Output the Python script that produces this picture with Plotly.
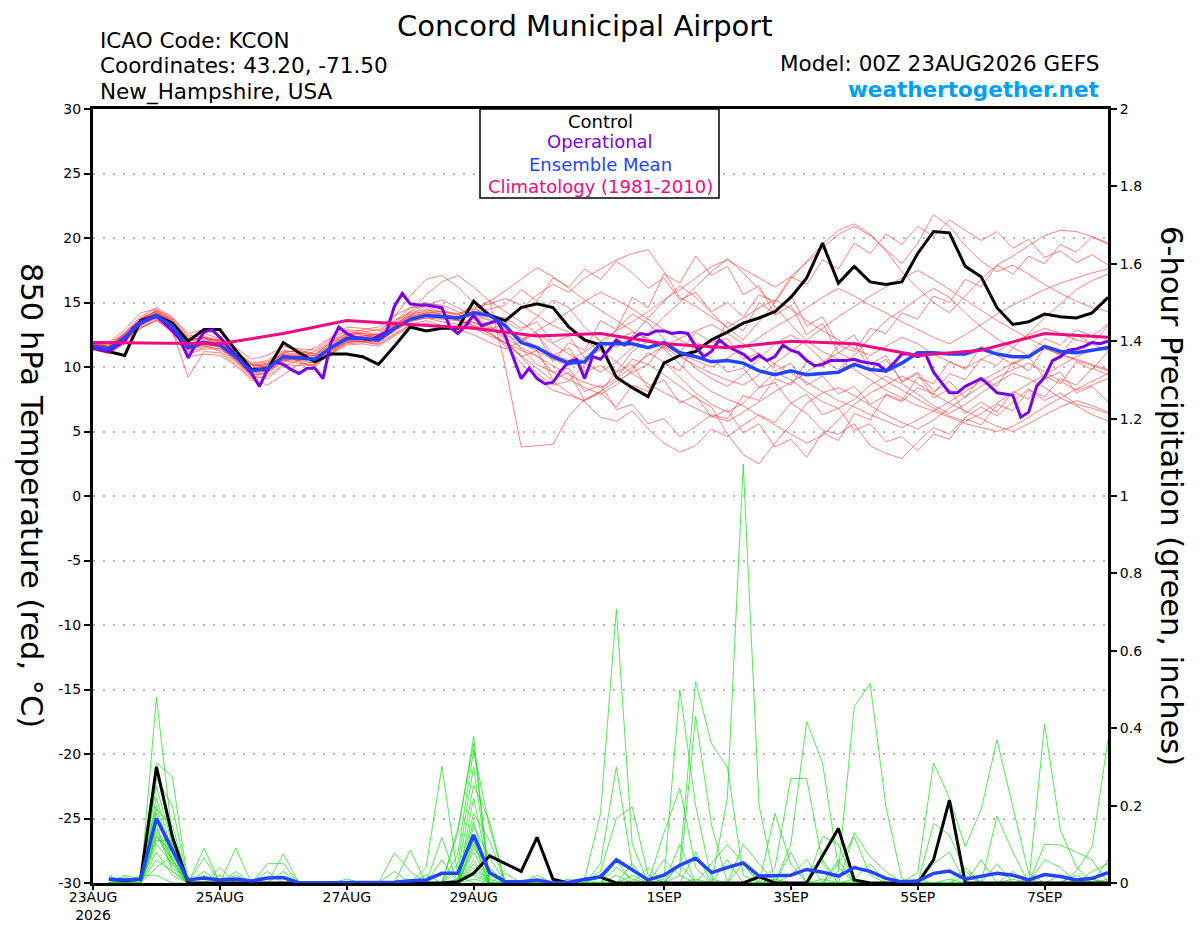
import pandas as pd
import plotly.graph_objects as go

# time axes
times = pd.date_range("2026-08-23 00:00", periods=65, freq="6h")
precip_times = times[1:]
oper_times = pd.date_range("2026-08-23 00:00", periods=129, freq="3h")
clim_times = pd.date_range("2026-08-23 00:00", periods=17, freq="1D")

tick_dates = ["2026-08-23", "2026-08-25", "2026-08-27", "2026-08-29",
              "2026-09-01", "2026-09-03", "2026-09-05", "2026-09-07"]
tick_labels = ["23AUG<br>2026", "25AUG", "27AUG", "29AUG", "1SEP", "3SEP", "5SEP", "7SEP"]

# 850 hPa temperature, ensemble members (deg C, 6-hourly)
t_mem01 = [11.8,11.6,12.6,13.8,14.3,13.5,12.0,12.3,11.6,10.5,9.2,9.6,10.4,
           10.9,11.2,12.0,12.8,12.6,12.3,13.5,14.6,15.0,14.4,14.1,14.8,14.2,
           13.5,12.8,13.9,15.2,14.6,13.1,12.0,11.5,12.4,13.8,15.1,16.3,15.4,
           14.2,13.0,12.1,13.5,15.0,16.8,18.2,19.5,20.6,21.1,20.3,19.0,17.4,
           16.1,15.0,14.2,15.5,16.8,17.9,18.6,19.4,20.2,20.6,20.5,20.1,19.5]
t_mem02 = [11.5,11.2,12.0,13.2,13.9,13.0,11.2,11.5,11.9,10.9,10.1,10.3,11.0,
           10.4,10.0,11.2,12.0,12.4,12.6,13.9,15.5,16.8,17.1,16.2,15.0,14.1,
           12.8,11.4,10.2,9.6,9.0,8.4,7.9,8.6,9.8,11.1,10.4,9.2,8.0,
           7.1,6.5,7.2,8.4,9.6,9.0,8.1,7.3,6.8,7.5,8.6,9.3,8.7,
           7.9,7.0,6.4,7.1,8.0,8.8,9.5,9.1,8.4,7.6,7.0,6.3,5.8]
t_mem03 = [11.6,11.9,12.9,14.2,14.5,13.8,12.6,12.9,12.4,11.3,10.2,10.0,10.6,
           11.0,11.5,12.3,13.1,13.0,12.8,13.2,14.0,14.8,15.2,14.6,13.9,13.3,
           12.1,10.8,9.5,8.6,8.9,10.2,11.6,12.9,14.1,13.4,12.2,11.0,9.9,
           9.1,8.5,9.4,10.6,11.8,12.5,11.7,10.5,9.8,10.9,12.3,13.6,14.4,
           15.3,16.1,15.4,14.2,13.1,12.2,11.5,12.6,13.8,14.9,16.0,16.7,17.2]
t_mem04 = [11.4,11.0,11.8,13.0,13.7,12.6,10.8,11.0,10.9,10.1,9.0,8.6,9.4,
           10.2,10.4,11.0,11.9,12.0,11.7,12.5,13.3,13.6,13.2,13.0,14.0,15.2,
           10.0,3.8,3.9,4.0,6.2,7.5,8.1,9.6,11.2,12.0,11.4,10.2,9.0,
           8.1,7.5,7.0,6.2,5.5,4.8,4.1,4.7,5.9,7.1,8.0,8.6,9.3,
           8.7,7.9,7.2,6.6,6.0,5.4,5.0,5.6,6.3,6.9,7.4,7.0,6.5]
t_mem05 = [11.7,11.5,12.4,13.5,14.1,13.4,11.7,12.1,12.0,11.2,10.3,10.5,11.3,
           11.1,10.8,11.6,12.4,12.7,12.9,13.6,14.2,14.5,14.0,13.6,13.2,12.9,
           13.4,14.5,15.6,16.4,15.8,16.9,17.6,18.3,18.8,19.1,17.4,15.4,14.7,
           13.9,13.1,13.8,14.6,15.2,14.5,13.6,12.8,12.1,11.4,10.9,11.6,12.3,
           11.8,11.0,10.4,9.9,10.6,11.2,11.9,12.5,13.0,12.6,12.1,11.8,11.2]
t_mem06 = [11.3,11.1,12.1,13.1,13.6,12.9,11.0,11.4,11.4,10.6,9.4,9.5,10.5,
           10.3,10.1,11.1,11.8,11.9,11.8,12.6,13.2,13.4,13.0,12.9,13.5,12.8,
           11.6,10.3,9.1,8.2,7.8,7.4,8.1,8.9,9.6,10.2,9.4,8.5,7.6,
           6.9,4.8,3.2,2.5,4.1,5.5,7.2,8.0,8.4,7.8,7.0,6.3,5.7,
           5.2,5.9,6.8,7.7,8.5,9.2,9.8,10.3,9.6,8.9,8.2,8.6,9.1]
t_mem07 = [11.9,11.8,12.7,13.9,14.6,13.9,12.4,12.6,12.2,11.5,10.6,10.9,11.6,
           11.4,11.3,12.2,12.9,12.8,12.4,13.1,14.3,15.6,16.6,17.1,16.2,15.1,
           14.3,13.5,12.6,11.8,11.0,10.3,9.6,10.4,11.5,12.6,13.9,15.0,16.2,
           17.4,18.4,17.3,16.0,14.7,13.3,12.0,11.2,10.6,9.8,9.0,8.2,7.6,
           7.0,6.6,6.1,5.6,5.3,5.0,5.4,6.1,6.9,7.6,8.3,8.9,9.5]
t_mem08 = [11.6,11.3,12.2,13.3,13.8,13.1,11.4,11.7,11.2,10.4,9.3,9.1,10.1,
           10.5,10.7,11.4,12.1,12.3,12.0,12.8,13.9,14.2,14.3,14.0,14.6,14.9,
           15.3,14.8,14.0,13.2,12.7,12.0,11.3,10.4,9.5,8.7,8.0,7.4,6.8,
           6.2,5.8,6.5,7.3,8.1,8.8,9.6,10.4,11.1,10.5,9.7,8.9,8.2,
           7.5,6.8,6.2,5.8,6.4,7.2,8.0,8.7,9.4,10.1,10.8,11.3,11.6]
t_mem09 = [11.5,11.4,12.3,13.6,14.2,13.6,12.2,12.2,12.0,11.0,9.9,10.2,11.1,
           11.3,11.0,11.9,12.6,12.5,12.2,13.3,14.1,14.3,14.1,13.9,14.1,13.7,
           12.9,12.2,11.6,11.0,10.5,11.2,12.0,12.8,13.5,14.3,15.2,16.0,16.9,
           17.8,18.3,17.6,16.9,16.2,17.0,18.1,19.2,20.3,20.9,20.2,19.1,18.0,
           19.6,21.8,20.9,19.4,18.2,17.4,17.9,17.2,16.4,15.7,15.1,14.6,14.3]
t_mem10 = [11.7,11.6,12.5,13.7,14.4,13.7,12.3,12.4,11.9,10.9,9.8,9.9,10.7,
           10.8,10.9,11.7,12.5,12.9,13.1,14.0,14.6,14.7,14.2,13.7,13.0,12.4,
           11.9,11.3,10.8,10.1,9.4,8.8,8.4,9.1,10.0,10.9,11.6,12.2,12.8,
           13.3,12.6,11.8,11.0,10.2,9.5,8.8,8.1,7.4,6.9,6.3,5.8,5.3,
           5.9,6.6,7.3,8.1,8.9,9.6,10.3,10.9,11.4,11.0,10.6,10.2,9.8]
t_mem11 = [11.4,11.3,12.2,13.3,14.0,13.3,11.8,12.0,11.8,10.9,9.9,10.1,11.0,
           10.9,10.5,11.3,12.0,12.1,12.3,13.2,13.9,14.2,14.0,13.8,14.4,15.1,
           15.9,16.8,17.7,17.0,16.1,15.2,14.4,13.6,12.8,12.1,11.5,10.8,10.1,
           9.5,9.0,8.6,9.4,10.3,11.2,12.1,13.0,13.9,14.7,15.5,16.2,16.9,
           17.5,16.8,16.0,15.2,14.4,13.6,12.9,12.2,11.6,11.0,10.5,10.1,9.7]
t_mem12 = [11.6,11.5,12.4,13.5,14.1,13.0,11.3,11.8,11.5,10.6,9.5,9.7,10.5,
           10.6,10.4,11.3,12.0,12.0,11.9,12.8,13.6,13.8,13.5,13.3,13.1,12.6,
           11.8,10.9,9.9,8.9,8.0,7.3,6.1,5.8,6.6,5.2,4.1,3.4,3.9,
           5.2,4.6,5.5,6.3,5.7,7.2,6.4,5.1,4.8,5.6,3.9,3.3,2.9,
           4.2,5.3,4.8,6.1,6.9,6.2,7.3,8.3,7.4,8.0,7.1,6.8,6.4]
t_mem13 = [11.8,11.7,12.6,13.7,14.3,13.6,12.0,12.2,12.1,11.2,10.1,10.2,11.1,
           11.0,10.9,11.8,12.4,12.4,12.5,13.4,14.3,14.9,14.8,14.3,13.7,13.1,
           12.5,11.9,11.2,10.6,10.1,10.7,11.4,12.1,12.7,12.2,11.6,11.0,10.5,
           10.0,10.7,11.5,12.3,13.1,13.8,14.6,15.4,16.1,15.5,14.8,14.2,13.5,
           12.9,12.3,11.8,12.5,13.3,14.1,14.8,15.4,16.0,16.5,16.9,17.3,17.6]
t_mem14 = [11.5,11.2,12.0,13.0,13.6,12.8,9.2,11.2,11.1,10.2,9.1,9.3,10.2,
           10.1,10.2,11.0,11.7,11.8,11.6,12.4,13.1,13.3,13.1,12.9,12.5,11.9,
           11.4,12.0,12.8,13.5,14.3,15.1,15.8,15.2,14.5,13.7,12.9,12.1,11.4,
           10.7,9.6,9.9,8.4,8.8,7.2,7.9,6.3,6.8,5.1,5.6,4.2,4.6,
           3.5,4.8,4.4,6.0,5.5,7.1,6.6,8.2,7.7,9.1,8.6,9.9,9.4]
t_mem15 = [11.7,11.6,12.5,13.6,14.2,13.5,11.9,12.0,11.7,10.8,9.7,9.8,10.6,
           10.6,10.6,11.5,12.3,12.3,12.2,13.0,13.8,14.1,13.9,13.7,13.4,13.0,
           12.3,11.5,10.9,9.6,9.9,8.1,8.6,6.7,7.1,5.6,6.0,4.6,5.4,
           6.3,6.0,7.8,7.4,9.1,8.6,10.4,10.0,11.7,11.2,13.0,12.6,14.2,
           13.7,15.5,15.0,16.8,16.2,17.9,17.2,18.6,18.0,19.5,18.9,20.1,19.6]
t_mem16 = [11.6,11.4,12.3,13.4,13.9,13.2,11.5,11.8,11.6,10.7,9.6,9.7,10.8,
           10.8,10.6,11.5,12.2,12.1,12.0,12.9,13.6,13.9,13.8,13.7,14.0,13.6,
           13.1,12.2,12.6,10.9,11.5,9.6,10.1,9.2,10.6,10.2,11.8,11.1,12.7,
           11.9,12.2,10.6,11.1,9.7,10.3,8.6,9.3,7.9,8.5,7.1,7.8,7.3,
           8.4,7.9,9.5,9.0,10.6,10.1,11.5,10.9,12.2,11.7,12.9,12.4,13.3]
t_mem17 = [11.4,11.3,12.1,13.2,13.8,13.1,11.6,11.9,11.8,10.9,9.8,10.0,10.9,
           10.8,10.7,11.6,12.3,12.4,12.3,13.1,13.7,14.0,13.9,13.8,14.3,14.0,
           13.8,13.0,13.5,11.9,12.4,10.7,11.3,9.6,10.2,8.4,9.0,7.2,7.8,
           6.1,6.7,4.9,5.6,3.8,4.4,3.0,4.9,4.3,6.4,5.9,7.9,7.4,
           9.2,8.7,10.4,9.8,11.6,10.9,10.2,10.8,9.1,9.6,8.0,8.5,7.3]
t_mem18 = [11.7,11.5,12.4,13.5,14.1,13.4,11.8,12.0,11.9,11.0,9.9,10.0,10.9,
           10.8,10.7,11.6,12.3,12.3,12.2,13.1,13.8,14.1,14.0,13.9,14.2,14.5,
           14.8,16.0,15.1,16.9,16.2,17.6,16.8,18.2,17.3,16.1,16.9,15.2,15.8,
           14.3,15.0,13.9,15.6,15.1,17.0,16.4,18.3,17.6,19.6,18.8,20.3,19.5,
           20.9,20.1,21.4,20.6,19.8,20.5,19.2,19.9,18.5,19.0,18.1,18.7,17.9]
t_mem19 = [11.5,11.3,12.2,13.3,13.9,13.1,11.4,11.6,11.4,10.5,9.4,9.6,10.6,
           10.5,10.3,11.2,11.9,12.0,12.0,12.8,13.5,13.8,13.7,13.6,13.2,12.6,
           11.9,10.8,11.3,9.0,9.6,7.4,8.0,6.9,8.6,8.1,10.3,9.7,11.9,
           11.4,13.5,12.8,15.0,14.1,15.6,13.2,13.9,11.7,12.5,10.2,10.9,8.8,
           9.5,7.6,8.3,6.4,7.3,6.5,8.1,7.5,9.3,8.7,10.4,9.8,11.2]
t_mem20 = [11.8,11.6,12.5,13.7,14.4,13.7,12.1,12.3,12.1,11.2,10.2,10.4,11.2,
           11.2,11.0,11.9,12.6,12.6,12.5,13.3,14.0,14.4,14.3,14.1,14.5,14.0,
           13.2,12.0,12.6,10.4,11.9,11.3,13.6,12.9,15.4,14.6,17.2,16.5,18.6,
           17.1,17.8,15.6,16.3,14.0,14.8,12.5,13.4,11.1,11.9,9.8,10.6,8.9,
           9.6,8.1,8.9,7.6,9.2,8.5,10.4,9.7,11.5,10.9,12.5,11.8,13.2]

temp_members = [t_mem01, t_mem02, t_mem03, t_mem04, t_mem05, t_mem06, t_mem07,
                t_mem08, t_mem09, t_mem10, t_mem11, t_mem12, t_mem13, t_mem14,
                t_mem15, t_mem16, t_mem17, t_mem18, t_mem19, t_mem20]

t_control = [11.5,11.2,10.9,13.6,14.0,13.4,12.0,12.9,12.9,11.3,9.8,9.8,11.9,
             11.1,10.4,11.0,11.0,10.8,10.2,11.6,13.1,12.8,13.0,13.0,15.1,14.0,
             13.6,14.6,14.9,14.6,13.1,12.1,11.7,9.2,8.4,7.7,10.3,10.9,11.2,
             12.1,12.7,13.4,13.8,14.3,15.4,16.9,19.6,16.5,17.8,16.6,16.4,16.6,
             18.8,20.5,20.4,17.8,17.0,14.6,13.3,13.5,14.1,13.9,13.8,14.2,15.4]

t_mean = [11.6,11.4,12.3,13.4,14.0,13.2,11.5,11.9,11.7,10.8,9.7,9.9,10.8,
          10.7,10.6,11.5,12.2,12.2,12.1,13.0,13.7,14.0,13.9,13.8,14.2,14.0,
          13.2,11.9,11.5,10.8,10.3,10.4,11.8,11.8,11.8,11.5,11.9,11.1,10.8,
          10.4,10.5,10.3,9.7,9.4,9.7,9.4,9.5,9.6,10.2,9.8,9.7,10.3,
          11.1,11.1,11.0,11.0,11.4,11.0,10.8,10.8,11.6,11.2,11.1,11.3,11.5]

# operational run, 3-hourly
t_oper = [11.5,11.3,11.2,11.6,12.0,13.0,13.5,13.8,
          13.9,13.4,12.8,12.1,10.7,11.8,12.7,12.9,
          12.3,11.6,10.9,10.2,9.5,8.5,9.8,10.4,
          10.2,9.8,9.5,9.9,9.9,9.1,11.9,13.1,
          12.6,12.3,12.2,12.1,12.4,12.7,14.7,15.7,
          14.9,14.8,14.8,14.7,14.6,13.1,12.6,13.2,
          14.0,13.2,13.4,13.6,12.4,10.7,9.1,9.9,
          9.1,8.7,8.8,9.7,10.4,10.6,9.1,10.8,
          10.6,11.3,12.1,11.7,12.2,12.6,12.5,12.8,
          12.8,12.6,12.7,12.6,11.6,10.8,11.2,12.1,
          11.6,11.3,11.0,10.5,10.9,10.5,10.8,11.7,
          11.3,11.1,10.5,10.1,10.2,10.5,10.5,10.5,
          10.6,10.4,10.3,10.2,9.7,10.3,11.0,11.0,
          10.8,11.0,9.6,8.8,8.0,8.0,8.5,8.8,
          9.1,8.6,8.0,7.9,7.8,6.1,6.5,8.5,
          9.2,10.5,10.8,11.3,11.4,11.6,11.9,11.8,
          12.0]

# 1981-2010 climatology, daily
t_clim = [11.9,11.85,11.8,12.6,13.6,13.3,13.0,12.4,12.6,11.8,11.5,12.0,11.8,10.9,11.3,12.6,12.3]

# 6-hour precipitation members (inches), valid 06Z 23AUG .. 00Z 8SEP
p_mem01 = [.01,0,0,.48,.12,0,.09,0, .03,0,0,0,0,0,0,0,
           0,0,0,0,0,0,.128,.378, 0,0,0,0,0,0,.01,0,
           .04,.01,0,0,0,0,0,.06, 0,0,.01,0,0,0,.03,.456,
           .516,.197,.01,0,0,0,0,0, 0,.01,0,0,0,.02,0,0]
p_mem02 = [0,.02,.01,.31,.275,0,.065,0, 0,0,0,0,0,0,0,0,
           0,0,0,0,0,0,.14,.36, 0,.025,0,0,0,0,0,.02,
           0,0,0,.01,.50,.2,.01,0, 0,0,0,0,0,0,0,.01,
           .05,0,0,0,0,0,0,0, 0,0,0,.41,.137,.042,0,0]
p_mem03 = [0,.01,0,.27,.2,0,.03,0, 0,0,.03,0,0,0,0,0,
           0,0,0,0,0,0,.075,.344, .145,0,0,0,0,0,0,0,
           .02,0,0,.06,.02,0,0,0, 0,0,0,.02,.06,0,0,0,
           0,0,0,0,0,.01,0,0, 0,0,0,0,0,0,.03,.05]
p_mem04 = [.02,0,0,.25,.1,0,0,.04, 0,0,0,0,0,0,0,0,
           0,0,0,0,0,0,.05,.30, .01,0,0,.02,0,0,0,0,
           0,.02,0,0,0,.01,0,0, .1,.05,0,0,0,0,0,0,
           0,0,0,0,.05,.08,0,0, 0,0,0,0,0,0,0,.01]
p_mem05 = [0,0,0,.22,.08,0,.02,0, 0,0,0,0,0,0,0,0,
           0,0,0,0,0,0,.03,.253, .16,0,0,0,0,.01,0,0,
           0,0,0,0,.05,.52,.36,.30, .02,0,0,0,0,.01,0,0,
           0,0,0,0,0,0,.04,0, 0,0,.01,0,0,0,0,0]
p_mem06 = [0,0,.016,.2,.06,0,0,.02, 0,0,0,0,0,0,0,0,
           0,0,0,0,0,0,0,.22, .02,0,0,0,0,0,0,0,
           0,0,.04,0,.1,0,0,0, 0,0,0,.08,0,0,.06,0,
           0,0,0,0,0,0,0,0, .173,.08,0,0,0,0,.01,0]
p_mem07 = [0,0,0,.19,.15,0,0,0, .09,0,0,0,0,0,0,0,
           0,0,0,0,0,0,.01,.18, .11,0,0,0,0,0,0,0,
           0,0,0,0,.02,.43,.15,0, 0,0,0,0,0,0,0,0,
           0,0,0,.01,0,0,0,0, 0,0,0,0,.02,0,0,0]
p_mem08 = [0,.015,0,.18,.05,0,0,0, .02,0,0,0,0,0,0,0,
           0,0,0,0,0,0,0,.16, 0,0,0,0,0,0,.01,.18,
           .707,.1,0,0,0,0,0,0, 0,0,0,0,0,0,0,0,
           0,0,0,0,0,0,0,0, 0,0,0,.1,.098,.08,.06,0]
p_mem09 = [0,0,0,.16,.1,0,0,0, 0,0,.05,.05,0,0,0,0,
           0,0,0,0,0,0,0,.145, .067,0,0,0,0,0,0,0,
           0,0,0,0,0,.08,0,0, 0,0,0,0,0,0,.05,.12,
           .02,0,0,0,0,0,0,0, 0,0,0,0,0,0,.01,0]
p_mem10 = [0,0,0,.15,.03,0,0,0, 0,0,0,.075,0,0,0,0,
           0,0,0,0,0,0,0,.11, 0,0,0,0,0,0,0,0,
           0,.05,0,0,0,0,.05,.1, .05,0,0,0,0,0,0,0,
           0,0,0,0,0,0,0,0, .05,0,0,0,0,0,0,0]
p_mem11 = [0,0,0,.14,.06,0,0,0, 0,0,0,.03,0,0,0,0,
           0,0,0,0,0,0,0,.09, .04,0,0,0,0,0,0,0,
           0,0,0,0,.05,0,0,0, 0,0,0,0,0,.12,.1,0,
           0,0,0,0,0,0,.02,0, 0,0,0,0,0,0,0,0]
p_mem12 = [0,0,0,.13,.04,0,0,0, 0,0,0,0,0,0,0,.01,
           0,0,0,0,0,0,0,.06, 0,0,0,0,0,0,0,.05,
           .30,.04,0,0,0,0,0,0, 0,0,0,0,0,.06,0,0,
           0,0,0,0,0,0,0,0, 0,0,0,.06,.04,0,0,0]
p_mem13 = [0,0,0,.12,.08,0,0,0, 0,0,0,0,0,0,0,0,
           0,0,.078,.03,0,0,0,.04, 0,0,0,0,0,0,0,0,
           0,0,0,0,0,0,0,.22, 1.083,.2,0,0,0,0,0,0,
           0,0,0,0,0,0,0,0, 0,0,0,0,0,0,0,0]
p_mem14 = [0,0,0,.11,.11,0,0,0, 0,0,0,0,0,0,0,0,
           0,0,.03,0,0,0,0,.03, 0,0,0,0,0,0,0,.03,
           .167,.197,.02,0,0,0,0,0, 0,0,0,0,0,0,0,0,
           0,0,0,0,0,0,0,0, 0,0,0,0,0,.03,.094,.37]
p_mem15 = [.015,0,0,.1,.05,0,0,0, 0,0,0,0,0,0,0,0,
           0,0,0,.085,0,0,0,.02, 0,0,0,0,0,0,0,0,
           0,0,0,.13,.245,.04,0,0, 0,0,0,0,0,0,0,0,
           0,0,0,0,0,0,0,0, 0,0,0,0,0,0,0,.06]
p_mem16 = [0,0,0,.08,.02,0,0,0, 0,0,0,0,0,0,0,0,
           0,0,0,0,.04,.302,.02,0, 0,0,0,0,0,0,0,0,
           .06,0,0,0,0,0,0,0, 0,0,0,0,0,0,0,.13,
           .068,.03,0,0,0,0,0,0, 0,0,0,0,0,0,0,0]
p_mem17 = [0,0,0,.06,.03,0,0,0, 0,0,0,0,0,0,0,0,
           0,0,0,0,.02,0,0,.05, 0,0,0,0,0,0,0,0,
           0,0,0,0,0,0,0,0, .05,0,0,0,0,0,0,0,
           0,0,0,.027,.31,.22,.094,.19, .37,.197,.025,0,0,0,0,0]
p_mem18 = [0,0,0,.04,.07,0,0,0, 0,0,0,0,0,0,0,0,
           0,0,0,0,0,.118,0,.1, 0,0,0,0,0,0,0,0,
           0,0,0,0,0,0,0,0, 0,0,.18,.05,0,0,0,0,
           0,0,0,0,.154,.124,.03,0, 0,0,0,0,0,0,0,0]
p_mem19 = [0,0,.02,.02,0,0,0,0, 0,0,0,0,0,0,0,0,
           0,0,0,0,0,.06,0,.08, 0,0,0,0,0,0,0,0,
           0,0,0,0,0,0,0,0, 0,0,.04,.27,.27,.05,0,0,
           0,0,0,0,0,0,0,.06, 0,0,0,0,0,0,0,0]
p_mem20 = [0,0,0,.12,.06,0,0,0, 0,0,0,0,0,0,0,0,
           0,0,0,0,0,0,0,.01, 0,0,0,0,0,0,0,0,
           0,0,0,0,0,0,0,0, 0,0,0,.1,.417,.31,.04,0,
           0,0,0,0,0,0,0,0, 0,.03,0,0,0,0,0,0]

precip_members = [p_mem01, p_mem02, p_mem03, p_mem04, p_mem05, p_mem06, p_mem07,
                  p_mem08, p_mem09, p_mem10, p_mem11, p_mem12, p_mem13, p_mem14,
                  p_mem15, p_mem16, p_mem17, p_mem18, p_mem19, p_mem20]

p_control = [.01,.006,.01,.30,.12,0,0,0, 0,0,0,0,0,0,0,0,
             0,0,0,0,0,0,.003,.025, .07,.05,.03,.118,.01,0,.01,.015,
             0,0,0,0,0,0,0,0, 0,.016,0,0,0,.07,.141,.008,
             0,0,0,0,.06,.214,0,0, 0,0,0,0,0,0,0,0]
p_mean = [.01,.008,.01,.167,.085,.008,.013,.008, .01,.005,.013,.014,0,0,0,0,
          0,0,.002,.006,.008,.025,.025,.124, .027,.003,.003,.008,0,.002,.008,.016,
          .06,.035,.008,.02,.046,.064,.027,.04, .052,.018,.019,.02,.035,.028,.018,.04,
          .03,.012,.003,.005,.025,.031,.01,.018, .025,.02,.008,.022,.017,.008,.012,.027]

for s in temp_members + [t_control, t_mean]:
    assert len(s) == 65, len(s)
for s in precip_members + [p_control, p_mean]:
    assert len(s) == 64, len(s)
assert len(t_oper) == 129

FONT = "DejaVu Sans, Liberation Sans, sans-serif"
RED = "rgba(255,45,45,0.75)"
GREEN = "rgba(20,220,20,0.9)"
BLACK = "#000000"
PURPLE = "#7a00e6"
BLUE = "#2244ff"
PINK = "#ee0a82"

fig = go.Figure()

for m in temp_members:
    fig.add_trace(go.Scatter(x=times, y=m, mode="lines", line=dict(color=RED, width=0.8)))
for m in precip_members:
    fig.add_trace(go.Scatter(x=precip_times, y=m, mode="lines", yaxis="y2",
                             line=dict(color=GREEN, width=0.8)))

fig.add_trace(go.Scatter(x=times, y=t_control, mode="lines", line=dict(color=BLACK, width=3)))
fig.add_trace(go.Scatter(x=precip_times, y=p_control, mode="lines", yaxis="y2",
                         line=dict(color=BLACK, width=3)))
fig.add_trace(go.Scatter(x=oper_times, y=t_oper, mode="lines", line=dict(color=PURPLE, width=3)))
fig.add_trace(go.Scatter(x=times, y=t_mean, mode="lines", line=dict(color=BLUE, width=3.5)))
fig.add_trace(go.Scatter(x=precip_times, y=p_mean, mode="lines", yaxis="y2",
                         line=dict(color=BLUE, width=3.5)))
fig.add_trace(go.Scatter(x=clim_times, y=t_clim, mode="lines", line=dict(color=PINK, width=3)))

# the page body has an 8px margin, so the figure is made 8px smaller and
# positions below are given in screen pixels: plot area x 93..1108, y 109..883
BODY = 8
PL, PT, PW, PH = 93, 109, 1015, 774
FIG_W, FIG_H = 1200 - BODY, 927 - BODY


def px(x):
    return (x - PL) / PW


def py(y):
    return (PT + PH - y) / PH


annotations = [
    dict(text="Concord Municipal Airport", x=px(585), y=py(26), size=29, anchor="center", color=BLACK),
    dict(text="ICAO Code: KCON", x=px(98), y=py(40), size=21.5, anchor="left", color=BLACK),
    dict(text="Coordinates: 43.20, -71.50", x=px(98), y=py(66), size=21.5, anchor="left", color=BLACK),
    dict(text="New_Hampshire, USA", x=px(98), y=py(92), size=21.5, anchor="left", color=BLACK),
    dict(text="Model: 00Z 23AUG2026 GEFS", x=px(1101), y=py(64), size=21.5, anchor="right", color=BLACK),
    dict(text="<b>weathertogether.net</b>", x=px(1101), y=py(89), size=21.5, anchor="right", color="#00a0f6"),
    dict(text="Control", x=px(600), y=py(121), size=18, anchor="center", color=BLACK),
    dict(text="Operational", x=px(600), y=py(142), size=18, anchor="center", color=PURPLE),
    dict(text="Ensemble Mean", x=px(600), y=py(164), size=18, anchor="center", color=BLUE),
    dict(text="Climatology (1981-2010)", x=px(600), y=py(186), size=18, anchor="center", color=PINK),
]
for a in annotations:
    fig.add_annotation(text=a["text"], x=a["x"], y=a["y"], xref="paper", yref="paper",
                       xanchor=a["anchor"], yanchor="middle", showarrow=False,
                       font=dict(family=FONT, size=a["size"], color=a["color"]))

fig.add_annotation(text="850 hPa Temperature (red, °C)", x=px(31), y=py(495),
                   xref="paper", yref="paper", textangle=90, showarrow=False,
                   xanchor="center", yanchor="middle",
                   font=dict(family=FONT, size=30.5, color=BLACK))
fig.add_annotation(text="6-hour Precipitation (green, inches)", x=px(1172), y=py(496),
                   xref="paper", yref="paper", textangle=90, showarrow=False,
                   xanchor="center", yanchor="middle",
                   font=dict(family=FONT, size=30.5, color=BLACK))

fig.add_shape(type="rect", xref="paper", yref="paper",
              x0=px(480), x1=px(719), y0=py(198), y1=1.0,
              line=dict(color=BLACK, width=1.5), fillcolor="white", layer="above")

t_ticks = list(range(-30, 31, 5))
p_ticks = [0, 0.2, 0.4, 0.6, 0.8, 1, 1.2, 1.4, 1.6, 1.8, 2]

fig.update_layout(
    width=FIG_W, height=FIG_H,
    margin=dict(l=PL - BODY, r=FIG_W - (PL - BODY) - PW,
                t=PT - BODY, b=FIG_H - (PT - BODY) - PH, autoexpand=False),
    paper_bgcolor="white", plot_bgcolor="white",
    showlegend=False, hovermode=False,
    font=dict(family=FONT, size=14, color=BLACK),
    xaxis=dict(type="date", range=[times[0], times[-1]], automargin=False,
               tickvals=tick_dates, ticktext=tick_labels,
               ticks="outside", ticklen=4, tickwidth=1.5, tickcolor=BLACK,
               ticklabelstandoff=-5,
               showgrid=False, zeroline=False,
               showline=True, linewidth=3, linecolor=BLACK, mirror=True,
               tickfont=dict(family=FONT, size=14)),
    yaxis=dict(range=[-30, 30], tickvals=t_ticks, ticktext=[str(v) for v in t_ticks],
               automargin=False,
               ticks="outside", ticklen=6, tickwidth=1.5, tickcolor=BLACK,
               showgrid=True, gridcolor="#b4b4b4", griddash="2px,8px", gridwidth=1.5,
               zeroline=False, showline=True, linewidth=3, linecolor=BLACK,
               tickfont=dict(family=FONT, size=14)),
    yaxis2=dict(range=[0, 2], overlaying="y", side="right", automargin=False,
                tickvals=p_ticks, ticktext=["0", "0.2", "0.4", "0.6", "0.8", "1", "1.2",
                                            "1.4", "1.6", "1.8", "2"],
                ticks="outside", ticklen=6, tickwidth=1.5, tickcolor=BLACK,
                showgrid=False, zeroline=False,
                showline=True, linewidth=3, linecolor=BLACK,
                tickfont=dict(family=FONT, size=14)),
)

fig.write_html("out.html")
